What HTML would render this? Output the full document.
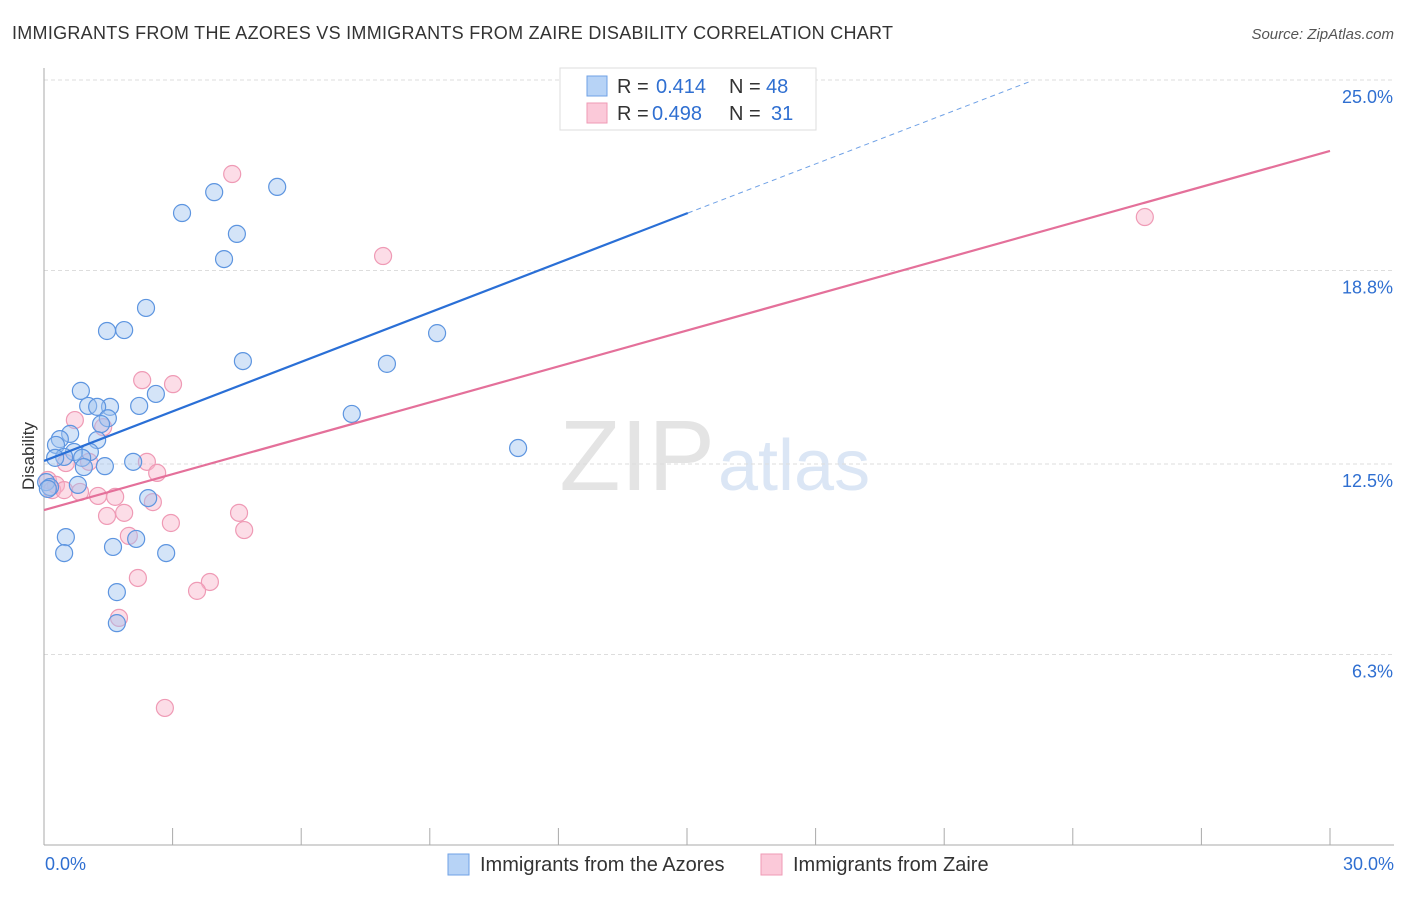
<!DOCTYPE html>
<html><head><meta charset="utf-8"><style>
body{margin:0;background:#fff;font-family:"Liberation Sans",sans-serif;}
svg text{font-family:"Liberation Sans",sans-serif;}
</style></head><body>
<svg id="chart" width="1406" height="892" xmlns="http://www.w3.org/2000/svg">
<text x="12" y="39" font-size="18" fill="#333" textLength="881">IMMIGRANTS FROM THE AZORES VS IMMIGRANTS FROM ZAIRE DISABILITY CORRELATION CHART</text>
<text x="1394" y="39" font-size="15" fill="#555" text-anchor="end" font-style="italic">Source: ZipAtlas.com</text>
<text x="715" y="490" font-size="100" fill="#e4e4e4" text-anchor="end" font-family="Liberation Serif">ZIP</text>
<text x="718" y="490" font-size="72" fill="#dbe6f5">atlas</text>
<g id="grid"></g><g id="axes"></g><g id="marks"></g>
<text x="34" y="456" font-size="17" fill="#333" transform="rotate(-90 34 456)" text-anchor="middle">Disability</text>
<g>
<rect x="560" y="68" width="256" height="62" fill="#fff" stroke="#ddd"/>
<rect x="587" y="76" width="20" height="20" fill="#b7d3f6" stroke="#6fa1e6"/>
<rect x="587" y="103" width="20" height="20" fill="#fbc9d9" stroke="#ef9ab5"/>
<text x="617" y="93" font-size="20" fill="#333">R =</text>
<text x="656" y="93" font-size="20" fill="#2f6fd1">0.414</text>
<text x="729" y="93" font-size="20" fill="#333">N =</text>
<text x="766" y="93" font-size="20" fill="#2f6fd1">48</text>
<text x="617" y="120" font-size="20" fill="#333">R =</text>
<text x="652" y="120" font-size="20" fill="#2f6fd1">0.498</text>
<text x="729" y="120" font-size="20" fill="#333">N =</text>
<text x="771" y="120" font-size="20" fill="#2f6fd1">31</text>
</g>
<g>
<rect x="448" y="854" width="21" height="21" fill="#b7d3f6" stroke="#6fa1e6"/>
<text x="480" y="871" font-size="20" fill="#333">Immigrants from the Azores</text>
<rect x="761" y="854" width="21" height="21" fill="#fbc9d9" stroke="#ef9ab5"/>
<text x="793" y="871" font-size="20" fill="#333">Immigrants from Zaire</text>
</g>
</svg>
<script>
const yTicks=[25.0,18.8,12.5,6.3];
const yTickLabels=["25.0%","18.8%","12.5%","6.3%"];
const xTickLabels=["0.0%","30.0%"];
const azoresX=[5.44,3.97,3.22,4.50,4.20,2.38,1.47,1.87,4.64,9.17,8.00,0.86,2.61,1.03,1.54,1.24,2.22,1.49,1.33,0.61,0.37,1.24,0.28,1.07,0.70,0.47,0.26,0.89,2.08,1.42,11.06,7.18,0.79,0.05,0.14,0.09,0.51,0.47,1.61,2.15,2.85,1.70,1.70,2.43,0.93];
const azoresY=[21.52,21.35,20.67,19.99,19.17,17.58,16.83,16.86,15.85,16.76,15.76,14.88,14.78,14.39,14.36,14.36,14.39,13.99,13.80,13.48,13.31,13.28,13.12,12.89,12.89,12.73,12.70,12.70,12.57,12.43,13.02,14.13,11.82,11.91,11.75,11.69,10.12,9.60,9.80,10.06,9.60,8.33,7.32,11.39,12.40];
const zaireX=[4.39,7.91,2.29,3.01,0.72,1.38,1.05,2.40,2.64,0.09,0.28,0.19,0.47,0.84,1.26,1.66,2.54,1.47,1.87,4.55,2.96,4.67,1.98,2.19,3.87,3.57,1.75,2.82,25.68,0.51];
const zaireY=[21.94,19.27,15.23,15.10,13.93,13.70,12.57,12.57,12.21,11.98,11.82,11.65,11.65,11.59,11.46,11.43,11.26,10.81,10.91,10.91,10.58,10.35,10.16,8.79,8.66,8.37,7.49,4.56,20.54,12.53];
const azoresTrend=[0,12.60,15.02,20.67,23.0,24.95];
const zaireTrend=[0,11.0,30,22.69];
const NS="http://www.w3.org/2000/svg";
const X=v=>44+v/30*1286, Y=v=>848-v*30.72;
function mk(t,a,p){const e=document.createElementNS(NS,t);for(const k in a)e.setAttribute(k,a[k]);document.getElementById(p).appendChild(e);return e;}
yTicks.forEach((t,i)=>{
 const l=mk('line',{x1:44,x2:1394,y1:Y(t),y2:Y(t),stroke:'#ddd','stroke-dasharray':'4,3'},'grid');
 
 
 const tx=mk('text',{x:1393,y:Y(t)+23,'font-size':18,fill:'#2f6fd1','text-anchor':'end'},'grid');tx.textContent=yTickLabels[i];
 
 
});
mk('line',{x1:44,x2:44,y1:68,y2:845,stroke:'#aaa'},'axes');
mk('line',{x1:44,x2:1394,y1:845,y2:845,stroke:'#aaa'},'axes');
for(let i=0;i<=10;i++){const l=mk('line',{x1:X(i*3),x2:X(i*3),y1:828,y2:845,stroke:'#aaa'},'axes');
 
 }
xTickLabels.forEach((s,i)=>{const t=mk('text',{x:i?1394:45,y:870,'font-size':18,fill:'#2f6fd1','text-anchor':i?'end':'start'},'axes');t.textContent=s;
 
 });
zaireX.forEach((x,i)=>{const c=mk('circle',{cx:X(x),cy:Y(zaireY[i]),r:8.5,fill:'rgba(248,180,202,0.45)',stroke:'#ef9ab5','stroke-width':1.2},'marks');
 
 });
azoresX.forEach((x,i)=>{const c=mk('circle',{cx:X(x),cy:Y(azoresY[i]),r:8.5,fill:'rgba(160,196,240,0.45)',stroke:'#5d95e0','stroke-width':1.2},'marks');
 
 });
let l1=mk('line',{x1:X(azoresTrend[0]),y1:Y(azoresTrend[1]),x2:X(azoresTrend[2]),y2:Y(azoresTrend[3]),stroke:'#2a6fd6','stroke-width':2.2},'marks');


let l2=mk('line',{x1:X(azoresTrend[2]),y1:Y(azoresTrend[3]),x2:X(azoresTrend[4]),y2:Y(azoresTrend[5]),stroke:'#6fa1e6','stroke-width':1,'stroke-dasharray':'5,4'},'marks');


let l3=mk('line',{x1:X(zaireTrend[0]),y1:Y(zaireTrend[1]),x2:X(zaireTrend[2]),y2:Y(zaireTrend[3]),stroke:'#e4709a','stroke-width':2.2},'marks');


</script>
</body></html>
